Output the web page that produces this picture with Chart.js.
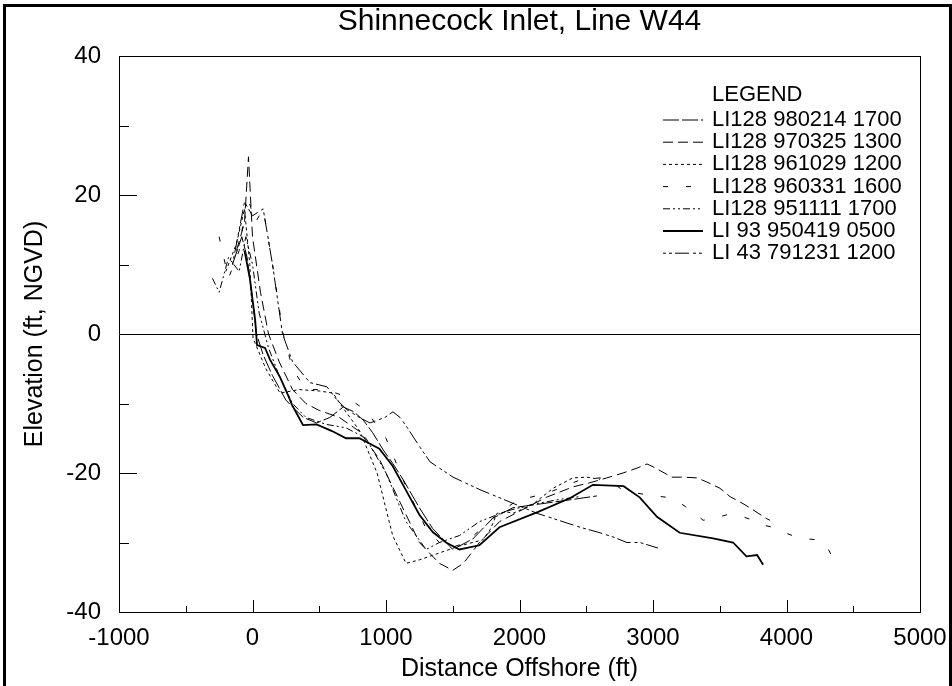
<!DOCTYPE html>
<html>
<head>
<meta charset="utf-8">
<title>Shinnecock Inlet, Line W44</title>
<script src="https://cdn.jsdelivr.net/npm/chart.js@4.4.1/dist/chart.umd.min.js"></script>
<style>
  body { margin: 0; background: #fff; }
  #wrap { position: relative; width: 952px; height: 686px; }
  #frame { position: absolute; left: 3px; top: 4px; width: 949px; height: 682px;
           border: 3px solid #000; border-bottom: none; box-sizing: border-box; pointer-events: none; }
</style>
</head>
<body>
<div id="wrap">
  <canvas id="chart" width="952" height="686"></canvas>
  <div id="frame"></div>
</div>
<script>
// survey names as printed in the legend
const surveyNames = ['LI128 980214 1700', 'LI128 970325 1300', 'LI128 961029 1200', 'LI128 960331 1600',
                     'LI128 951111 1700', 'LI 93 950419 0500', 'LI 43 791231 1200'];

// distance offshore (ft) and elevation (ft, NGVD), one pair per survey
const dist980214 = [-150, -80, -40, 0, 30, 80, 150, 250, 300, 380, 480, 580, 680, 760, 830, 900, 980, 1050, 1130, 1250, 1350, 1500, 1650, 1800, 1950, 2100, 2250, 2400, 2580];
const elev980214 = [10, 14, 11, 5, 0, -3, -6, -9.5, -10.5, -12, -12.8, -12, -10.5, -11.2, -12.4, -14.2, -16.7, -18.6, -21, -25, -28, -31, -29.5, -26.5, -25, -24.6, -24.2, -23.8, -23.3];

const dist970325 = [-120, -60, -30, 0, 60, 120, 200, 300, 400, 500, 650, 800, 950, 1100, 1250, 1400, 1500, 1580, 1700, 1850, 2000, 2200, 2400, 2528, 2655, 2775, 2880, 2955, 3000, 3142, 3225, 3330, 3404, 3502, 3577, 3674, 3749, 3854, 3876];
const elev970325 = [12, 16, 25.5, 14, 6, 0, -4, -8, -10, -11, -12, -14, -18, -24, -30, -33, -34, -33, -30, -27, -25.5, -23.5, -22, -21.4, -20.7, -20, -19.3, -18.7, -19.1, -20.6, -20.6, -20.7, -21.3, -22.2, -23.4, -24.4, -25.3, -26.6, -26.8];

const dist961029 = [-200, -120, -60, -20, 4, 100, 206, 350, 500, 603, 655, 805, 933, 1050, 1150, 1250, 1400, 1550, 1727, 1779, 1832, 1907, 1952, 2100, 2251, 2400, 2505, 2603];
const elev961029 = [9, 13, 18, 10, -0.6, -5, -8.5, -8, -8.2, -8.5, -10, -14, -20, -29, -33, -32.5, -31.5, -30.5, -29.6, -28.2, -25.8, -25.6, -25.8, -24.5, -22.2, -20.7, -20.6, -20.9];

const dist960331 = [-250, -180, -100, -40, 20, 80, 150, 230, 300, 400, 550, 700, 850, 1000, 1150, 1300, 1450, 1600, 1800, 2004, 2079, 2206, 2326, 2453, 2603, 2678, 2753, 2880, 2978, 3105, 3202, 3300, 3375, 3449, 3554, 3629, 3704, 3779, 3824, 3899, 3974, 4101, 4229, 4303, 4363];
const elev960331 = [14, 8, 12, 20, 16, 18, 10, 0, -5, -8, -8, -9, -11, -15, -22, -28, -31, -30, -26.5, -23.6, -23.5, -22.9, -22, -21, -20.7, -21, -22.2, -22.9, -23.2, -23.5, -24.3, -25.6, -26.8, -26.6, -26, -26, -26.5, -27, -27.5, -27.8, -28.5, -29.4, -29.6, -30.6, -32.8];

const dist951111 = [-300, -250, -180, -100, -50, 0, 50, 120, 200, 300, 400, 550, 700, 850, 1000, 1150, 1300, 1400, 1550, 1700, 1900, 2100, 2300, 2450];
const elev951111 = [8, 6, 11, 9, 14, 10, 3, -2, -6, -10, -12, -13, -13.5, -15, -20, -27, -31, -30, -29, -27, -25.5, -24.5, -23.8, -23.4];

const dist950419 = [-60, -20, 20, 34, 94, 131, 206, 266, 296, 378, 480, 600, 700, 800, 880, 950, 1050, 1150, 1250, 1350, 1450, 1550, 1700, 1850, 2140, 2380, 2550, 2780, 2900, 3030, 3200, 3450, 3600, 3700, 3780, 3825];
const elev950419 = [12, 8, 2, -1.6, -2, -3.7, -6.2, -8.8, -10.2, -13.1, -13, -14, -15, -15, -15.8, -16.5, -19, -22.5, -26, -28.5, -30, -31, -30.4, -27.8, -25.6, -23.6, -21.7, -21.9, -23.5, -26.3, -28.6, -29.4, -30, -32, -31.8, -33.2];

const dist791231 = [-150, -60, 0, 80, 150, 225, 300, 431, 558, 633, 708, 800, 880, 992, 1052, 1105, 1157, 1255, 1330, 1502, 1704, 2019, 2131, 2213, 2356, 2453, 2603, 2700, 2805, 2903, 3037];
const elev791231 = [10, 19, 17, 18, 10, 0, -4, -7, -7.6, -9.5, -10.9, -12, -12.8, -12, -11.2, -12, -13.4, -16.3, -18.4, -20.6, -22.4, -24.9, -25.8, -26.3, -27.2, -27.8, -28.6, -29.2, -30, -30, -30.8];

// axis ticks
const xTicks = [-1000, 0, 1000, 2000, 3000, 4000, 5000];
const yTicks = [-40, -20, 0, 20, 40];

const distSets = [dist980214, dist970325, dist961029, dist960331, dist951111, dist950419, dist791231];
const elevSets = [elev980214, elev970325, elev961029, elev960331, elev951111, elev950419, elev791231];

// line look of each survey (same order as the legend)
const dashes = [[16, 3], [10, 5], [3, 3], [5, 18], [7, 3, 2, 3, 2, 3], [], [3, 3, 3, 3, 14, 4]];
const widths = [1, 1, 1, 1, 1, 1.8, 1];

const datasets = surveyNames.map((name, i) => ({
    label: name,
    data: distSets[i].map((d, j) => ({ x: d, y: elevSets[i][j] })),
    borderColor: '#000',
    borderWidth: widths[i],
    borderDash: dashes[i],
    pointRadius: 0,
    tension: 0,
    fill: false
}));

// small inward tick marks, drawn from the scales
const innerTicks = {
    id: 'innerTicks',
    afterDatasetsDraw(chart) {
        const { ctx, scales: { x, y }, chartArea } = chart;
        ctx.save();
        ctx.strokeStyle = '#000';
        ctx.lineWidth = 1;
        for (let v = -500; v < 5000; v += 500) {
            const px = Math.round(x.getPixelForValue(v)) + 0.5;
            const len = v % 1000 === 0 ? 12 : 6;
            ctx.beginPath();
            ctx.moveTo(px, chartArea.bottom);
            ctx.lineTo(px, chartArea.bottom - len);
            ctx.stroke();
        }
        for (let v = -30; v < 40; v += 10) {
            if (v === 0) continue;
            const py = Math.round(y.getPixelForValue(v)) + 0.5;
            const len = v % 20 === 0 ? 18 : 10;
            ctx.beginPath();
            ctx.moveTo(chartArea.left, py);
            ctx.lineTo(chartArea.left + len, py);
            ctx.stroke();
        }
        ctx.restore();
    }
};

// the "LEGEND" block in the upper right
const legendBlock = {
    id: 'legendBlock',
    afterDraw(chart) {
        const ctx = chart.ctx;
        const textX = 712, firstY = 120, rowH = 22.2;
        ctx.save();
        ctx.fillStyle = '#000';
        ctx.font = '22px "Liberation Sans", Arial, sans-serif';
        ctx.textBaseline = 'middle';
        ctx.fillText('LEGEND', textX, 95);
        chart.data.datasets.forEach((ds, i) => {
            const yy = firstY + i * rowH;
            ctx.beginPath();
            ctx.setLineDash(ds.borderDash);
            ctx.lineWidth = ds.borderWidth;
            ctx.strokeStyle = '#000';
            ctx.moveTo(663, yy);
            ctx.lineTo(703, yy);
            ctx.stroke();
            ctx.setLineDash([]);
            ctx.fillText(ds.label, textX, yy);
        });
        ctx.restore();
    }
};

new Chart(document.getElementById('chart'), {
    type: 'line',
    data: { datasets },
    options: {
        responsive: false,
        animation: false,
        layout: { padding: { top: 0, right: 32, bottom: 0, left: 0 } },
        plugins: {
            legend: { display: false },
            tooltip: { enabled: false },
            title: {
                display: true,
                text: 'Shinnecock Inlet, Line W44',
                fullSize: false,
                color: '#000',
                font: { family: '"Liberation Sans Narrow", "Liberation Sans", Arial, sans-serif', size: 30, weight: 'normal' },
                padding: { top: 4, bottom: 16 }
            }
        },
        scales: {
            x: {
                type: 'linear',
                min: -1000, max: 5000,
                afterBuildTicks(scale) { scale.ticks = xTicks.map(v => ({ value: v })); },
                afterFit(scale) { scale.height = 74; scale.paddingLeft = 0; scale.paddingRight = 0; },
                ticks: { color: '#000', padding: 12, callback: v => String(v),
                         font: { family: '"Liberation Sans", Arial, sans-serif', size: 24 } },
                grid: { drawTicks: false, color: c => (c.tick && c.tick.value === 5000 ? '#000' : 'rgba(0,0,0,0)') },
                border: { display: true, color: '#000', width: 1 },
                title: { display: true, text: 'Distance Offshore (ft)', color: '#000', padding: { top: 0, bottom: 2 },
                         font: { family: '"Liberation Sans", Arial, sans-serif', size: 25 } }
            },
            y: {
                type: 'linear',
                min: -40, max: 40,
                afterBuildTicks(scale) { scale.ticks = yTicks.map(v => ({ value: v })); },
                afterFit(scale) { scale.width = 119; },
                ticks: { color: '#000', padding: 18, callback: v => String(v),
                         font: { family: '"Liberation Sans", Arial, sans-serif', size: 24 } },
                grid: { drawTicks: false, color: c => (c.tick && (c.tick.value === 0 || c.tick.value === 40) ? '#000' : 'rgba(0,0,0,0)') },
                border: { display: true, color: '#000', width: 1 },
                title: { display: true, text: 'Elevation (ft, NGVD)', color: '#000', padding: { top: 20, bottom: 0 },
                         font: { family: '"Liberation Sans", Arial, sans-serif', size: 25 } }
            }
        }
    },
    plugins: [innerTicks, legendBlock]
});
</script>
</body>
</html>
